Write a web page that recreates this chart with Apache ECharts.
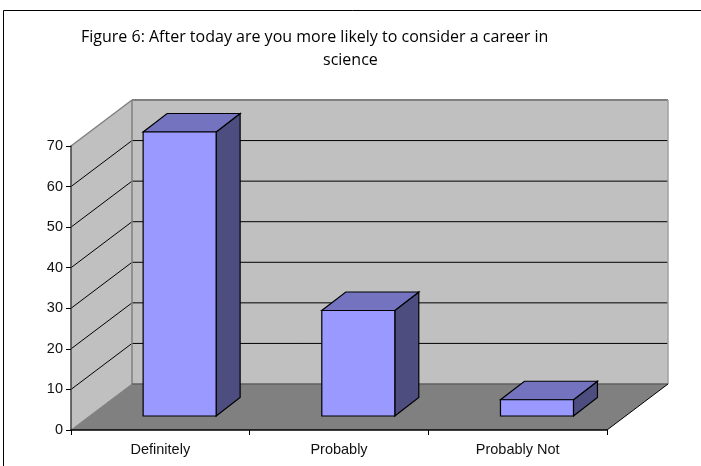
<!DOCTYPE html>
<html><head><meta charset="utf-8">
<style>html,body{margin:0;padding:0;background:#fff}#c{width:701px;height:466px}</style>
<script src="https://cdn.jsdelivr.net/npm/echarts@6/dist/echarts.min.js"></script>
</head><body><div id="c"></div>
<script>
const categories = ['Definitely', 'Probably', 'Probably Not'];
const responses = [70, 26, 4];
const yTicks = [0, 10, 20, 30, 40, 50, 60, 70];
const titleLine1 = 'Figure 6: After today are you more likely to consider a career in';
const titleLine2 = 'science';

const DX = 61, DY = -46;
const BAR_DX = 24, BAR_DY = -18.5;
const BAR_INSET_X = -17.2, BAR_INSET_Y = -14, BAR_W = 73;

function poly(points, fill, stroke, lw) {
  return { type: 'polygon', shape: { points }, style: { fill, stroke: stroke || 'none', lineWidth: lw || 0 } };
}
function line(a, b, stroke, lw) {
  return { type: 'line', shape: { x1: a[0], y1: a[1], x2: b[0], y2: b[1] }, style: { stroke, lineWidth: lw } };
}
const chart = echarts.init(document.getElementById('c'), null, { renderer: 'canvas' });

function renderFrame(params, api) {
  const c0 = api.coord([0, 0]);
  const top = api.coord([0, yTicks[yTicks.length - 1]]);
  const x0 = params.coordSys.x, x1 = x0 + params.coordSys.width;
  const y0 = c0[1], yT = top[1];
  const kids = [
    poly([[x0, y0], [x0 + DX, y0 + DY], [x0 + DX, yT + DY], [x0, yT]], '#c0c0c0'),
    poly([[x0 + DX, y0 + DY], [x1 + DX, y0 + DY], [x1 + DX, yT + DY], [x0 + DX, yT + DY]], '#c0c0c0'),
    poly([[x0, y0], [x1, y0], [x1 + DX, y0 + DY], [x0 + DX, y0 + DY]], '#808080')
  ];
  yTicks.forEach(t => {
    const y = api.coord([0, t])[1];
    if (t > 0 && t < yTicks[yTicks.length - 1]) {
      kids.push(line([x0, y], [x0 + DX, y + DY], '#000', 1));
      kids.push(line([x0 + DX, y + DY], [x1 + DX, y + DY], '#000', 1));
    }
  });
  kids.push(line([x0, yT], [x0 + DX, yT + DY], '#808080', 1.5));
  kids.push(line([x0 + DX, yT + DY], [x1 + DX, yT + DY], '#808080', 2));
  kids.push(line([x0 + DX, yT + DY], [x0 + DX, y0 + DY], '#808080', 1.5));
  kids.push(line([x1 + DX, yT + DY], [x1 + DX, y0 + DY], '#a0a0a0', 1.5));
  kids.push(line([x0 + DX, y0 + DY], [x1 + DX, y0 + DY], '#606060', 1.5));
  kids.push(line([x0, y0], [x0 + DX, y0 + DY], '#808080', 1));
  kids.push(line([x1, y0], [x1 + DX, y0 + DY], '#000', 1));
  return { type: 'group', children: kids };
}

function renderBar(params, api) {
  const cat = api.value(0), v = api.value(1);
  const base = api.coord([cat, 0]), topP = api.coord([cat, v]);
  const l = base[0] + BAR_INSET_X, r = l + BAR_W;
  const b = base[1] + BAR_INSET_Y, t = topP[1] + BAR_INSET_Y;
  return { type: 'group', children: [
    poly([[r, b], [r + BAR_DX, b + BAR_DY], [r + BAR_DX, t + BAR_DY], [r, t]], '#4d4d80', '#000', 1.2),
    poly([[l, t], [r, t], [r + BAR_DX, t + BAR_DY], [l + BAR_DX, t + BAR_DY]], '#7373bf', '#000', 1.2),
    poly([[l, b], [r, b], [r, t], [l, t]], '#9999ff', '#000', 1.2)
  ] };
}

chart.setOption({
  animation: false,
  backgroundColor: '#fff',
  grid: { left: 71, top: 146, width: 536, height: 284 },
  xAxis: {
    type: 'category', data: categories, boundaryGap: true,
    axisLine: { lineStyle: { color: '#000', width: 1.5 } },
    axisTick: { show: true, length: 5, lineStyle: { color: '#000' } },
    axisLabel: { fontFamily: 'Liberation Sans', fontSize: 14.5, color: '#111', margin: 12 },
    splitLine: { show: false }, z: 5
  },
  yAxis: {
    type: 'value', min: 0, max: 70, interval: 10,
    axisLine: { show: true, lineStyle: { color: '#404040', width: 1.5 } },
    axisTick: { show: true, length: 5, lineStyle: { color: '#000' } },
    axisLabel: { fontFamily: 'Liberation Sans', fontSize: 14.5, color: '#111', margin: 8 },
    splitLine: { show: false }, z: 5
  },
  graphic: [
    { type: 'line', shape: { x1: 3.5, y1: 10.5, x2: 701, y2: 10.5 }, style: { stroke: '#000', lineWidth: 1 } },
    { type: 'line', shape: { x1: 3.5, y1: 10.5, x2: 3.5, y2: 466 }, style: { stroke: '#000', lineWidth: 1 } },
    { type: 'text', left: 81, top: 29, style: { text: titleLine1, font: '16px "Open Sans"', fill: '#000' } },
    { type: 'text', left: 323, top: 52, style: { text: titleLine2, font: '16px "Open Sans"', fill: '#000' } }
  ],
  series: [
    { type: 'custom', name: 'frame', coordinateSystem: 'cartesian2d', renderItem: renderFrame, data: [[0, 0]], clip: false, z: 1, silent: true },
    { type: 'custom', name: 'responses', coordinateSystem: 'cartesian2d', renderItem: renderBar,
      data: responses.map((v, i) => [i, v]), encode: { x: 0, y: 1 }, clip: false, z: 2 }
  ]
});
</script></body></html>
